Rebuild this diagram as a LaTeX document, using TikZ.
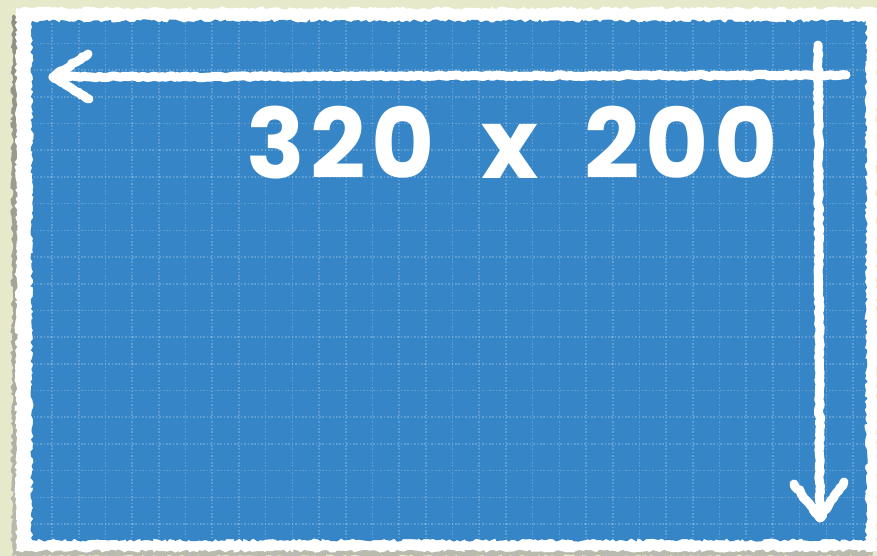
\documentclass[tikz,border=0pt]{standalone}
\usepackage{fontspec}
\setmainfont{Poppins}
\usetikzlibrary{decorations.pathmorphing}
\definecolor{paper}{RGB}{230,234,203}
\definecolor{bp}{RGB}{54,134,199}
\definecolor{shade}{RGB}{150,150,130}
\tikzset{
  chalk/.style={draw=white, line width=9pt, line cap=round, line join=round,
    decorate, decoration={random steps, segment length=3pt, amplitude=1pt}},
  rough/.style={decorate, decoration={random steps, segment length=3pt, amplitude=1.6pt}},
  gridline/.style={white, opacity=0.2, line width=1.6pt, dash pattern=on 1.6pt off 1.8pt},
  label/.style={text=white, inner sep=0pt, font=\fontsize{97}{97}\selectfont\bfseries\addfontfeature{LetterSpace=6}}
}
\begin{document}
\begin{tikzpicture}[x=1pt,y=-1pt]
\pgfmathsetseed{7}
\useasboundingbox (0,0) rectangle (877,556);
\fill[paper] (0,0) rectangle (877,556);
% shadow
\fill[shade, opacity=0.35, rough] (12,16) rectangle (872,556);
% white frame
\fill[white, rough] (16,8) rectangle (877,551);
% blueprint
\fill[bp, rough] (32,21) rectangle (866,540);
% grid
\begin{scope}
\clip (34,23) rectangle (864,538);
\foreach \i in {0,...,31} {
  \draw[gridline] ({25.3+26.7*\i},20) -- ({25.3+26.7*\i},540);
}
\foreach \j in {0,...,19} {
  \draw[gridline] (30,{16.7+26.7*\j}) -- (866,{16.7+26.7*\j});
}
\end{scope}
% horizontal arrow
\coordinate (hR) at (846,75);
\coordinate (hL) at (53,77);
\coordinate (hA) at (88,54);
\coordinate (hB) at (89,99);
\draw[chalk] (hR) -- (hL);
\draw[chalk] (hA) -- (hL) -- (hB);
% vertical arrow
\coordinate (vT) at (818,45);
\coordinate (vB) at (820,518);
\coordinate (vA) at (794,484);
\coordinate (vC) at (844,482);
\draw[chalk] (vT) -- (vB);
\draw[chalk] (vA) -- (vB) -- (vC);
% label
\node[label, anchor=center] (dim) at (512,143) {320\hspace{46pt}x\hspace{46pt}200};
\end{tikzpicture}
\end{document}
